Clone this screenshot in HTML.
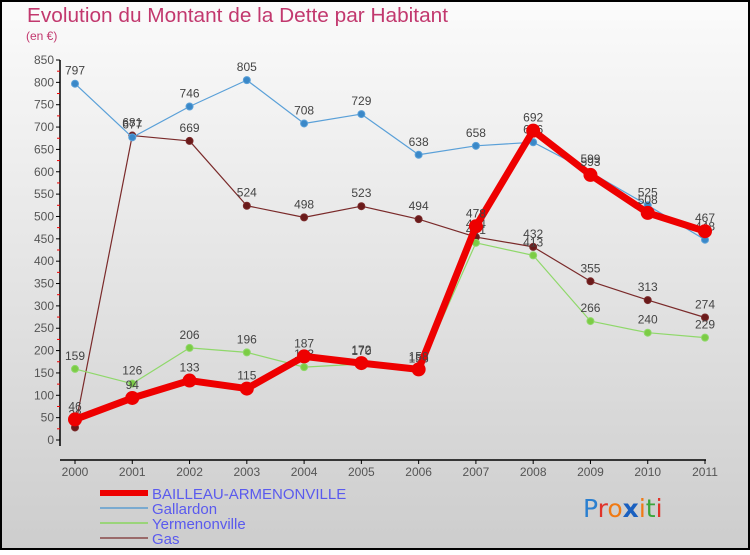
<!DOCTYPE html>
<html><head><meta charset="utf-8"><style>
html,body{margin:0;padding:0;}
body{width:750px;height:550px;overflow:hidden;font-family:"Liberation Sans",sans-serif;}
</style></head><body>
<svg id="chart" width="750" height="550" xmlns="http://www.w3.org/2000/svg">
<defs>
<linearGradient id="bg" x1="0" y1="0" x2="0" y2="1"><stop offset="0" stop-color="#fbfbfb"/><stop offset="1" stop-color="#cdcdcd"/></linearGradient>
</defs>
<rect x="1" y="1" width="748" height="548" fill="url(#bg)" stroke="#000" stroke-width="2"/>
<text x="27" y="22" font-size="20" fill="#c2386e" textLength="421" lengthAdjust="spacingAndGlyphs">Evolution du Montant de la Dette par Habitant</text>
<text x="26" y="40" font-size="12" fill="#c2386e">(en €)</text>
<g id="axes"></g>
<g id="series"></g>
<g id="legend"></g>
<text x="583" y="517" font-size="25" font-family="'DejaVu Sans',sans-serif"><tspan fill="#2a7fd0">P</tspan><tspan fill="#e0332a">r</tspan><tspan fill="#f07a14">o</tspan><tspan fill="#1a60c0" font-weight="bold">x</tspan><tspan fill="#f07a14">i</tspan><tspan fill="#3aa53a">t</tspan><tspan fill="#e0332a">i</tspan></text>
</svg>
<script>
const years = [2000,2001,2002,2003,2004,2005,2006,2007,2008,2009,2010,2011];
const bailleau = [46,94,133,115,187,172,158,478,692,593,508,467];
const gallardon = [797,677,746,805,708,729,638,658,666,599,525,448];
const yermenonville = [159,126,206,196,163,170,153,441,413,266,240,229];
const gas = [28,681,669,524,498,523,494,454,432,355,313,274];
const yTicks = [0,50,100,150,200,250,300,350,400,450,500,550,600,650,700,750,800,850];

const NS="http://www.w3.org/2000/svg";
const X0=75,X1=705,Y0=440,Y1=60,VMAX=850;
function xs(i){return X0+(X1-X0)*i/(years.length-1);}
function ys(v){return Y0-(Y0-Y1)*v/VMAX;}
function mk(tag,attrs,parent){const e=document.createElementNS(NS,tag);for(const k in attrs)e.setAttribute(k,attrs[k]);parent.appendChild(e);return e;}
const axes=document.getElementById('axes');
let a=mk('line',{x1:60,y1:Y1,x2:60,y2:Y0+6,stroke:'#000','stroke-width':1.5},axes);


a=mk('line',{x1:60,y1:Y0+20,x2:X1+1,y2:Y0+20,stroke:'#000','stroke-width':1.5},axes);


yTicks.forEach((t,i)=>{
  const y=ys(t);
  mk('line',{x1:56,y1:y,x2:60,y2:y,stroke:'#000'},axes);
  if(i<yTicks.length-1){mk('line',{x1:57,y1:ys(t+25),x2:60,y2:ys(t+25),stroke:'#e00'},axes);}
  const tx=mk('text',{x:54,y:y+4,'font-size':12,fill:'#555','text-anchor':'end'},axes);
  tx.textContent=t;
  
  
});
years.forEach((yr,i)=>{
  const x=xs(i);
  mk('line',{x1:x,y1:Y0+20,x2:x,y2:Y0+24,stroke:'#000'},axes);
  const tx=mk('text',{x:x,y:Y0+25+11,'font-size':12,fill:'#555','text-anchor':'middle'},axes);
  tx.textContent=yr;
  
  
});
const seriesG=document.getElementById('series');
function drawSeries(data,color,dot,width,r,name){
  const g=mk('g',{},seriesG);
  
  
  const pts=data.map((v,i)=>xs(i)+','+ys(v)).join(' ');
  const pl=mk('polyline',{points:pts,fill:'none',stroke:color,'stroke-width':width,'stroke-linejoin':'round'},g);
  
  
  data.forEach((v,i)=>{
    const c=mk('circle',{cx:xs(i),cy:ys(v),r:r,fill:dot,stroke:color,'stroke-width':1},g);
    
    
    const t=mk('text',{x:xs(i),y:ys(v)-9,'font-size':12,fill:'#444','text-anchor':'middle'},g);
    t.textContent=v;
    
    
  });
}
drawSeries(gas,'#7a2a2a','#6a1a1a',1.2,3.5,'gas');
drawSeries(yermenonville,'#8fd86a','#7ccc45',1.2,3.5,'yermenonville');
drawSeries(gallardon,'#5aa0d8','#3a88c8',1.2,3.5,'gallardon');
drawSeries(bailleau,'#ee0000','#ee0000',7,6.5,'bailleau-armenonville');
const leg=document.getElementById('legend');
const items=[['BAILLEAU-ARMENONVILLE','#ee0000',6],['Gallardon','#7aaad0',2],['Yermenonville','#9ad47a',2],['Gas','#9a6a6a',2]];
items.forEach((it,i)=>{
  const y=493+i*15;
  const l=mk('line',{x1:100,y1:y,x2:148,y2:y,stroke:it[1],'stroke-width':it[2]},leg);
  
  
  const t=mk('text',{x:152,y:y+6,'font-size':15,fill:'#5a5aee'},leg);
  t.textContent=it[0];
  
  
});
</script>
</body></html>
